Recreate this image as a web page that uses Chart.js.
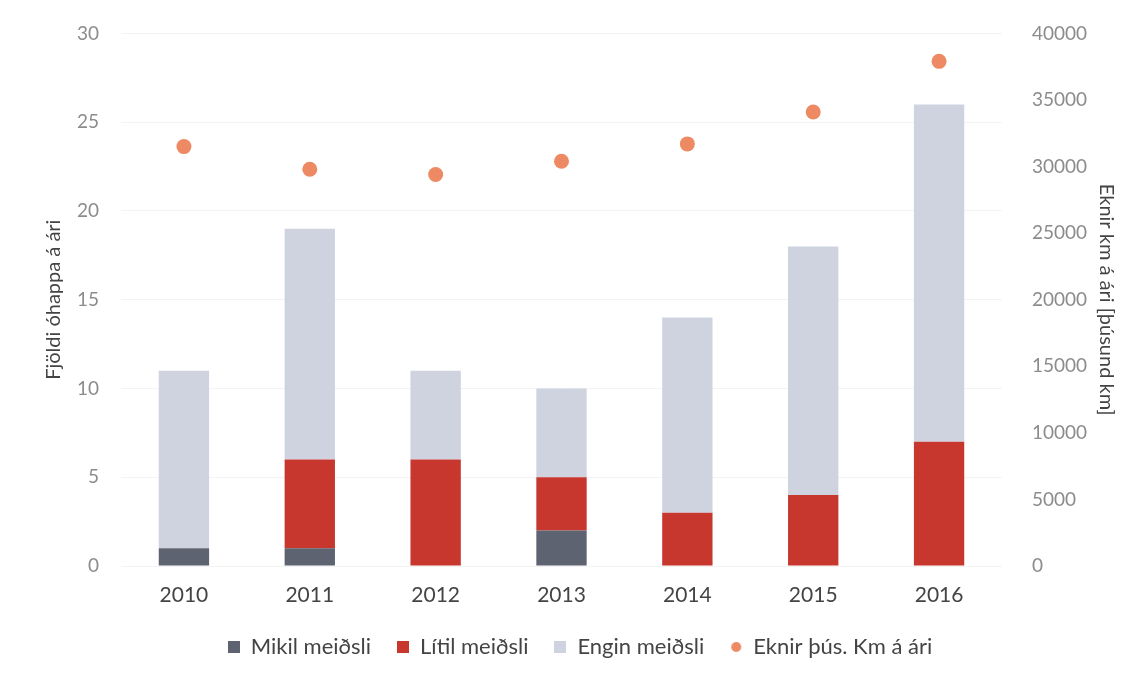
<!DOCTYPE html>
<html lang="is">
<head>
  <meta charset="UTF-8" />
  <title>Fjöldi óhappa og eknir km</title>
  <script src="https://cdn.jsdelivr.net/npm/chart.js"></script>
  <style>
    html, body { margin:0; padding:0; background:#fff; }
    #wrap { width:1138px; height:674px; }
  </style>
</head>
<body>
<div id="wrap"><canvas id="chart"></canvas></div>
<script>
  // Data
  const years = ["2010","2011","2012","2013","2014","2015","2016"];
  const mikil = [1, 1, 0, 2, 0, 0, 0];
  const litil = [0, 5, 6, 3, 3, 4, 7];
  const engin = [10, 13, 5, 5, 11, 14, 19];
  const eknirKm = [31500, 29800, 29400, 30400, 31700, 34100, 37900];
  const leftTicks = [0, 5, 10, 15, 20, 25, 30];
  const rightTicks = [0, 5000, 10000, 15000, 20000, 25000, 30000, 35000, 40000];

  const font = "Lato, 'Open Sans', sans-serif";
  const barPct = 0.4;

  // small legend markers
  function marker(color, round){
    const c = document.createElement('canvas');
    c.width = 12; c.height = 12;
    const g = c.getContext('2d');
    g.fillStyle = color;
    if(round){ g.beginPath(); g.arc(6,6,5,0,Math.PI*2); g.fill(); }
    else g.fillRect(0,0,12,12);
    return c;
  }

  const ctx = document.getElementById('chart').getContext('2d');
  new Chart(ctx, {
    data: {
      labels: years,
      datasets: [
        { type:'bar', label:'Mikil meiðsli', data:mikil, backgroundColor:'#5e6372', stack:'s', yAxisID:'y',
          categoryPercentage:1, barPercentage:barPct },
        { type:'bar', label:'Lítil meiðsli', data:litil, backgroundColor:'#c8372d', stack:'s', yAxisID:'y',
          categoryPercentage:1, barPercentage:barPct },
        { type:'bar', label:'Engin meiðsli', data:engin, backgroundColor:'#ced3df', stack:'s', yAxisID:'y',
          categoryPercentage:1, barPercentage:barPct },
        { type:'line', label:'Eknir þús. Km á ári', data:eknirKm, yAxisID:'y1', showLine:false,
          pointRadius:7.5, pointHoverRadius:7.5, pointStyle:'circle',
          backgroundColor:'#ee8a63', borderColor:'#ee8a63', borderWidth:0 }
      ]
    },
    options: {
      responsive:true, maintainAspectRatio:false, animation:false,
      layout:{ padding:{ left:38, right:16, top:26, bottom:6 } },
      plugins:{
        tooltip:{ enabled:false },
        legend:{
          position:'bottom',
          labels:{
            usePointStyle:true, boxWidth:12, boxHeight:12, padding:26,
            color:'#444', font:{ family:font, size:22 },
            generateLabels:(chart)=>{
              const items = Chart.defaults.plugins.legend.labels.generateLabels(chart);
              return items.map(it => {
                const ds = chart.data.datasets[it.datasetIndex];
                it.pointStyle = marker(ds.backgroundColor, ds.type === 'line');
                return it;
              });
            }
          }
        }
      },
      scales:{
        x:{
          stacked:true,
          afterFit:s=>{ s.height = 44; },
          grid:{ display:false, drawTicks:false }, border:{ display:false },
          ticks:{ color:'#444', font:{ family:font, size:21 }, padding:17 }
        },
        y:{
          stacked:true, position:'left', min:0, max:30,
          afterBuildTicks:s=>{ s.ticks = leftTicks.map(v=>({value:v})); },
          afterFit:s=>{ s.width = 83; },
          grid:{ color:'#f3f3f3', drawTicks:false }, border:{ display:false },
          ticks:{ color:'#8c8c8c', font:{ family:font, size:19 }, padding:22 },
          title:{ display:true, text:'Fjöldi óhappa á ári', color:'#444', font:{ family:font, size:20 }, padding:{ top:4, bottom:4 } }
        },
        y1:{
          position:'right', min:0, max:40000,
          afterBuildTicks:s=>{ s.ticks = rightTicks.map(v=>({value:v})); },
          afterFit:s=>{ s.width = 120; },
          grid:{ display:false }, border:{ display:false },
          ticks:{ color:'#8c8c8c', font:{ family:font, size:19 }, padding:22, callback:v=>String(v) },
          title:{ display:true, text:'Eknir km á ári [þúsund km]', color:'#444', font:{ family:font, size:20 }, padding:{ top:4, bottom:4 } }
        }
      }
    }
  });
</script>
</body>
</html>
